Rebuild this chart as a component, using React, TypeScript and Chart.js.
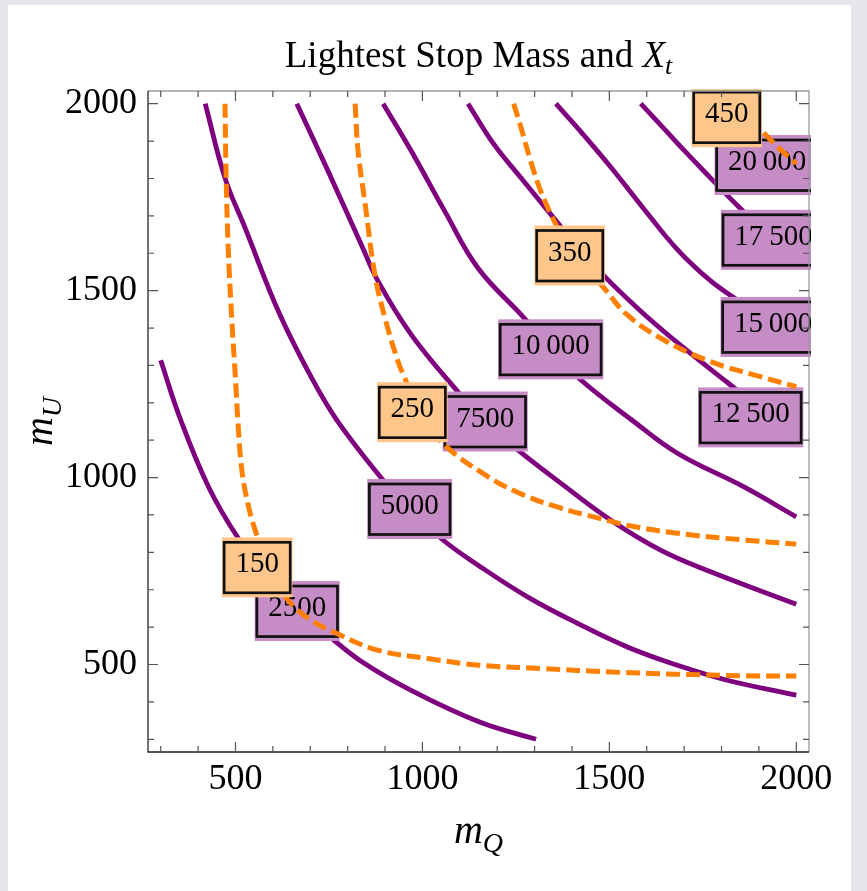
import React, { useEffect, useRef } from 'react';
import { Chart, registerables } from 'chart.js';

Chart.register(...registerables);

const FONT = '"Liberation Serif", "Times New Roman", serif';

// ---- axes ----
const xRange = [266, 2034];
const yRange = [266, 2034];
const majorTickValues = [500, 1000, 1500, 2000];
const minorTickValues = [300, 400, 600, 700, 800, 900, 1100, 1200, 1300, 1400, 1600, 1700, 1800, 1900];

// ---- purple (X_t) contours: [mQ, mU] ----
const xt2500: number[][] = [[300, 1314], [352, 1158], [428, 975], [508, 837], [580, 745], [655, 655], [745, 580], [837, 508], [975, 428], [1153, 346], [1304, 300]];
const xt5000: number[][] = [[419, 2000], [472, 1801], [526, 1667], [615, 1444], [704, 1266], [771, 1154], [895, 993], [966, 916], [1055, 833], [1150, 765], [1281, 681], [1415, 610], [1548, 547], [1682, 498], [1815, 458], [2000, 418]];
const xt7500: number[][] = [[664, 2000], [748, 1819], [837, 1622], [882, 1524], [971, 1381], [1091, 1234], [1168, 1150], [1250, 1078], [1370, 985], [1504, 886], [1637, 806], [1771, 748], [2000, 661]];
const xt10000: number[][] = [[895, 2000], [971, 1872], [1060, 1712], [1149, 1560], [1273, 1426], [1343, 1343], [1424, 1261], [1560, 1154], [1682, 1065], [1860, 975], [2000, 895]];
const xt12500: number[][] = [[1122, 2000], [1190, 1893], [1265, 1800], [1345, 1702], [1420, 1612], [1495, 1530], [1593, 1437], [1700, 1346], [1815, 1255], [1905, 1185], [2000, 1122]];
const xt15000: number[][] = [[1357, 2000], [1415, 1935], [1504, 1830], [1593, 1718], [1682, 1610], [1771, 1526], [1838, 1478], [1920, 1418], [2000, 1357]];
const xt17500: number[][] = [[1584, 2000], [1640, 1940], [1700, 1875], [1771, 1801], [1830, 1740], [1900, 1672], [2000, 1584]];
const xt20000: number[][] = [[1790, 2000], [1850, 1940], [1895, 1895], [1940, 1850], [2000, 1790]];

const xtCurves = [xt2500, xt5000, xt7500, xt10000, xt12500, xt15000, xt17500, xt20000];
const xtLabels = ['2500', '5000', '7500', '10\u2009000', '12\u2009500', '15\u2009000', '17\u2009500', '20\u2009000'];
const xtLabelX = [665, 966, 1168, 1343, 1878, 1938, 1939, 1922];
const xtLabelY = [643, 916, 1150, 1343, 1161, 1403, 1636, 1836];

// ---- orange (lightest stop mass) contours ----
const ms150: number[][] = [[472, 2000], [475, 1801], [481, 1604], [490, 1426], [501, 1248], [506, 1158], [517, 1020], [535, 922], [557, 846], [590, 755], [641, 672], [700, 620], [771, 583], [882, 538], [1015, 516], [1153, 498], [1326, 489], [1504, 480], [1682, 474], [1860, 470], [2000, 469]];
const ms250: number[][] = [[820, 2000], [828, 1872], [846, 1738], [873, 1542], [900, 1426], [935, 1310], [953, 1266], [1000, 1160], [1064, 1083], [1162, 1011], [1251, 962], [1358, 922], [1474, 891], [1545, 873], [1682, 851], [1860, 833], [2000, 822]];
const ms350: number[][] = [[1244, 2000], [1264, 1935], [1290, 1845], [1317, 1765], [1353, 1685], [1400, 1600], [1482, 1511], [1548, 1435], [1646, 1368], [1771, 1310], [1904, 1270], [2000, 1243]];
const ms450: number[][] = [[1840, 2000], [1880, 1955], [1914, 1921], [1955, 1880], [2000, 1840]];

const msCurves = [ms150, ms250, ms350, ms450];
const msLabels = ['150', '250', '350', '450'];
const msLabelX = [558, 973, 1394, 1814];
const msLabelY = [760, 1175, 1594, 1964];

const PURPLE = '#7f007f';
const ORANGE = '#ff8000';
const PURPLE_FILL = '#c68cc6';
const ORANGE_FILL = '#ffc68c';

function drawLabel(ctx: CanvasRenderingContext2D, cx: number, cy: number, text: string, fill: string) {
  ctx.font = `29px ${FONT}`;
  const w = ctx.measureText(text).width + 27;
  const h = 60;
  const x0 = cx - w / 2;
  const y0 = cy - h / 2;
  ctx.fillStyle = fill;
  ctx.fillRect(x0, y0, w, h);
  ctx.lineWidth = 2.7;
  ctx.strokeStyle = '#111';
  ctx.strokeRect(x0 + 2.2, y0 + 5, w - 4.4, h - 9.5);
  ctx.fillStyle = '#000';
  ctx.textAlign = 'center';
  ctx.textBaseline = 'middle';
  ctx.fillText(text, cx, cy - 2.5);
}

function drawLabels(chart: any, labels: string[], xs: number[], ys: number[], fill: string) {
  const ctx: CanvasRenderingContext2D = chart.ctx;
  const a = chart.chartArea;
  const sx = chart.scales.x;
  const sy = chart.scales.y;
  ctx.save();
  ctx.beginPath();
  ctx.rect(a.left - 1, a.top - 2, a.right - a.left + 3, a.bottom - a.top + 3);
  ctx.clip();
  labels.forEach((t, i) => {
    drawLabel(ctx, sx.getPixelForValue(xs[i]), sy.getPixelForValue(ys[i]), t, fill);
  });
  ctx.restore();
}

function drawSubText(ctx: CanvasRenderingContext2D, cx: number, baseY: number, parts: { t: string; font: string; dy: number }[]) {
  let total = 0;
  parts.forEach((p) => {
    ctx.font = p.font;
    total += ctx.measureText(p.t).width;
  });
  let x = cx - total / 2;
  ctx.textAlign = 'left';
  ctx.textBaseline = 'alphabetic';
  ctx.fillStyle = '#000';
  parts.forEach((p) => {
    ctx.font = p.font;
    ctx.fillText(p.t, x, baseY + p.dy);
    x += ctx.measureText(p.t).width;
  });
}

const decorPlugin = {
  id: 'decor',
  afterDatasetDraw(chart: any, args: any) {
    if (args.index === 0) drawLabels(chart, xtLabels, xtLabelX, xtLabelY, PURPLE_FILL);
    if (args.index === xtCurves.length) drawLabels(chart, msLabels, msLabelX, msLabelY, ORANGE_FILL);
  },
  afterDraw(chart: any) {
    const ctx: CanvasRenderingContext2D = chart.ctx;
    const a = chart.chartArea;
    const sx = chart.scales.x;
    const sy = chart.scales.y;
    ctx.save();
    // frame
    ctx.lineWidth = 1.3;
    ctx.strokeStyle = '#9a9a9a';
    ctx.beginPath();
    ctx.moveTo(a.left, a.top);
    ctx.lineTo(a.right, a.top);
    ctx.lineTo(a.right, a.bottom);
    ctx.stroke();
    ctx.strokeStyle = '#222';
    ctx.beginPath();
    ctx.moveTo(a.left, a.top);
    ctx.lineTo(a.left, a.bottom);
    ctx.lineTo(a.right, a.bottom);
    ctx.stroke();
    // ticks
    ctx.strokeStyle = '#555';
    ctx.lineWidth = 1.2;
    const drawTicks = (vals: number[], len: number) => {
      ctx.beginPath();
      vals.forEach((v) => {
        const px = sx.getPixelForValue(v);
        ctx.moveTo(px, a.bottom);
        ctx.lineTo(px, a.bottom - len);
        ctx.moveTo(px, a.top);
        ctx.lineTo(px, a.top + len);
        const py = sy.getPixelForValue(v);
        ctx.moveTo(a.left, py);
        ctx.lineTo(a.left + len, py);
        ctx.moveTo(a.right, py);
        ctx.lineTo(a.right - len, py);
      });
      ctx.stroke();
    };
    drawTicks(majorTickValues, 10);
    drawTicks(minorTickValues, 6);
    // title
    const cx = (a.left + a.right) / 2;
    drawSubText(ctx, cx, 67, [
      { t: 'Lightest Stop Mass and ', font: `37px ${FONT}`, dy: 0 },
      { t: 'X', font: `italic 37px ${FONT}`, dy: 0 },
      { t: 't', font: `italic 26px ${FONT}`, dy: 7 },
    ]);
    // x axis title
    drawSubText(ctx, cx, 843, [
      { t: 'm', font: `italic 40px ${FONT}`, dy: 0 },
      { t: 'Q', font: `italic 28px ${FONT}`, dy: 9 },
    ]);
    // y axis title
    ctx.save();
    ctx.translate(52, (a.top + a.bottom) / 2);
    ctx.rotate(-Math.PI / 2);
    drawSubText(ctx, 0, 0, [
      { t: 'm', font: `italic 40px ${FONT}`, dy: 0 },
      { t: 'U', font: `italic 28px ${FONT}`, dy: 9 },
    ]);
    ctx.restore();
    ctx.restore();
  },
};

export default function App() {
  const ref = useRef<HTMLCanvasElement | null>(null);
  useEffect(() => {
    if (!ref.current) return;
    const datasets: any[] = [];
    xtCurves.forEach((c, i) => {
      datasets.push({
        label: 'Xt ' + xtLabels[i],
        data: c.map(([x, y]) => ({ x, y })),
        borderColor: PURPLE,
        borderWidth: 4.8,
        pointRadius: 0,
        showLine: true,
        fill: false,
        tension: 0.4,
        order: 1,
      });
    });
    msCurves.forEach((c, i) => {
      datasets.push({
        label: 'mt1 ' + msLabels[i],
        data: c.map(([x, y]) => ({ x, y })),
        borderColor: ORANGE,
        borderWidth: 5,
        borderDash: [14, 6],
        pointRadius: 0,
        showLine: true,
        fill: false,
        tension: 0.4,
        order: 0,
      });
    });
    const tickFont = { family: FONT, size: 36 };
    const chart = new Chart(ref.current, {
      type: 'scatter',
      data: { datasets },
      options: {
        responsive: false,
        animation: false,
        devicePixelRatio: 1,
        layout: { padding: { top: 91, right: 58, left: 0, bottom: 0 } },
        plugins: { legend: { display: false }, tooltip: { enabled: false }, title: { display: false } },
        scales: {
          x: {
            type: 'linear',
            position: 'bottom',
            min: xRange[0],
            max: xRange[1],
            afterBuildTicks: (s: any) => {
              s.ticks = majorTickValues.map((v) => ({ value: v }));
            },
            afterFit: (s: any) => {
              s.height = 139;
            },
            grid: { display: false, drawTicks: false },
            border: { display: false },
            ticks: { font: tickFont, color: '#000', padding: 6, maxRotation: 0, autoSkip: false, callback: (v: any) => String(v) },
          },
          y: {
            type: 'linear',
            position: 'left',
            min: yRange[0],
            max: yRange[1],
            afterBuildTicks: (s: any) => {
              s.ticks = majorTickValues.map((v) => ({ value: v }));
            },
            afterFit: (s: any) => {
              s.width = 148;
            },
            grid: { display: false, drawTicks: false },
            border: { display: false },
            ticks: { font: tickFont, color: '#000', padding: 11, autoSkip: false, callback: (v: any) => String(v) },
          },
        },
      } as any,
      plugins: [decorPlugin],
    });
    return () => chart.destroy();
  }, []);

  return (
    <div style={{ position: 'absolute', left: 0, top: 0, width: 867, height: 891, background: '#e4e6eb', overflow: 'hidden' }}>
      <div style={{ position: 'absolute', left: 8, top: 5, width: 843, height: 886, background: '#ffffff' }} />
      <canvas ref={ref} width={867} height={891} style={{ position: 'absolute', left: 0, top: 0, width: 867, height: 891 }} />
    </div>
  );
}
